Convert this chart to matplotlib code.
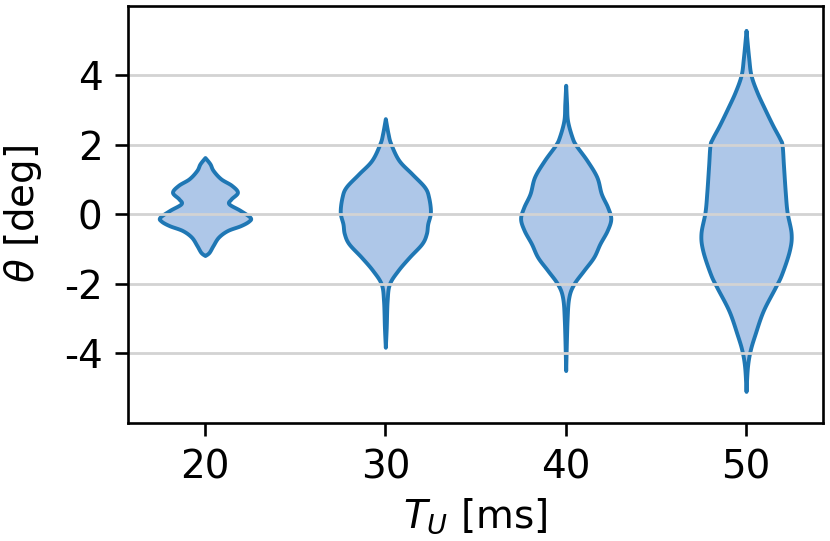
import numpy as np
import matplotlib
matplotlib.use("Agg")
import matplotlib.pyplot as plt

plt.rcParams['axes.unicode_minus'] = False

# periods T_U [ms] and the violin outlines:
# theta values [deg] and relative density (1 = widest point)
periods = [20, 30, 40, 50]

theta_20 = [1.63, 1.45, 1.26, 1.02, 0.83, 0.63, 0.44, 0.30, 0.11, -0.09, -0.20, -0.33, -0.47, -0.66, -0.90, -1.10, -1.19]
dens_20 = [0.0, 0.11, 0.18, 0.35, 0.59, 0.72, 0.58, 0.53, 0.78, 1.0, 0.97, 0.79, 0.50, 0.30, 0.18, 0.09, 0.0]

theta_30 = [2.75, 2.32, 2.03, 1.55, 1.16, 0.78, 0.49, 0.06, -0.28, -0.56, -0.85, -1.24, -1.62, -2.01, -2.49, -3.26, -3.83]
dens_30 = [0.0, 0.06, 0.12, 0.30, 0.59, 0.87, 0.96, 1.0, 0.94, 0.91, 0.81, 0.53, 0.28, 0.09, 0.04, 0.02, 0.0]

theta_40 = [3.71, 3.18, 2.70, 2.22, 1.98, 1.55, 1.07, 0.59, 0.20, -0.13, -0.47, -0.85, -1.24, -1.62, -2.01, -2.39, -3.06, -4.50]
dens_40 = [0.0, 0.02, 0.04, 0.14, 0.23, 0.47, 0.69, 0.79, 0.93, 1.0, 0.92, 0.76, 0.62, 0.40, 0.18, 0.07, 0.03, 0.0]

theta_50 = [5.29, 4.48, 4.00, 3.52, 3.04, 2.56, 2.17, 1.98, 1.40, 0.63, 0.06, -0.56, -1.05, -1.72, -2.10, -2.78, -3.45, -3.93, -4.41, -5.10]
dens_50 = [0.0, 0.06, 0.11, 0.24, 0.41, 0.59, 0.75, 0.80, 0.83, 0.87, 0.91, 1.0, 0.96, 0.79, 0.65, 0.38, 0.20, 0.09, 0.03, 0.0]

thetas = [theta_20, theta_30, theta_40, theta_50]
denss = [dens_20, dens_30, dens_40, dens_50]

violin_width = 5


def smooth(y, w, n=12):
    # catmull-rom through the outline points, only for drawing
    p = np.column_stack([y, w])
    p = np.vstack([p[0], p, p[-1]])
    out = []
    for i in range(1, len(p) - 2):
        p0, p1, p2, p3 = p[i - 1], p[i], p[i + 1], p[i + 2]
        t = np.linspace(0, 1, n, endpoint=False)[:, None]
        out.append(0.5 * (2 * p1 + (-p0 + p2) * t + (2 * p0 - 5 * p1 + 4 * p2 - p3) * t ** 2
                          + (-p0 + 3 * p1 - 3 * p2 + p3) * t ** 3))
    out.append(p[-2][None, :])
    out = np.vstack(out)
    return out[:, 0], np.clip(out[:, 1], 0, None)


fig = plt.figure(figsize=(8.3, 5.41), dpi=100)
ax = fig.add_axes([0.1546, 0.2187, 0.8366, 0.7708])

for pos, th, d in zip(periods, thetas, denss):
    yy, ww = smooth(th, d)
    half = ww * violin_width / 2
    ax.fill_betweenx(yy, pos - half, pos + half, facecolor='#aec7e8',
                     edgecolor='#1f77b4', linewidth=2.8, joinstyle='round', zorder=1)

ax.set_xlim(15.75, 54.25)
ax.set_ylim(-6, 6)
ax.set_xticks(periods)
ax.set_yticks([-4, -2, 0, 2, 4])
ax.yaxis.grid(True, color='#d3d3d3', linewidth=2.0)
ax.set_axisbelow('line')

for s in ax.spines.values():
    s.set_linewidth(1.9)
ax.tick_params(labelsize=28, length=9.6, width=1.9, pad=9)
ax.set_xlabel(r'$T_U$ [ms]', fontsize=28, labelpad=7)
ax.set_ylabel(r'$\theta$ [deg]', fontsize=28, labelpad=14)

fig.savefig('out.png', dpi=100)
